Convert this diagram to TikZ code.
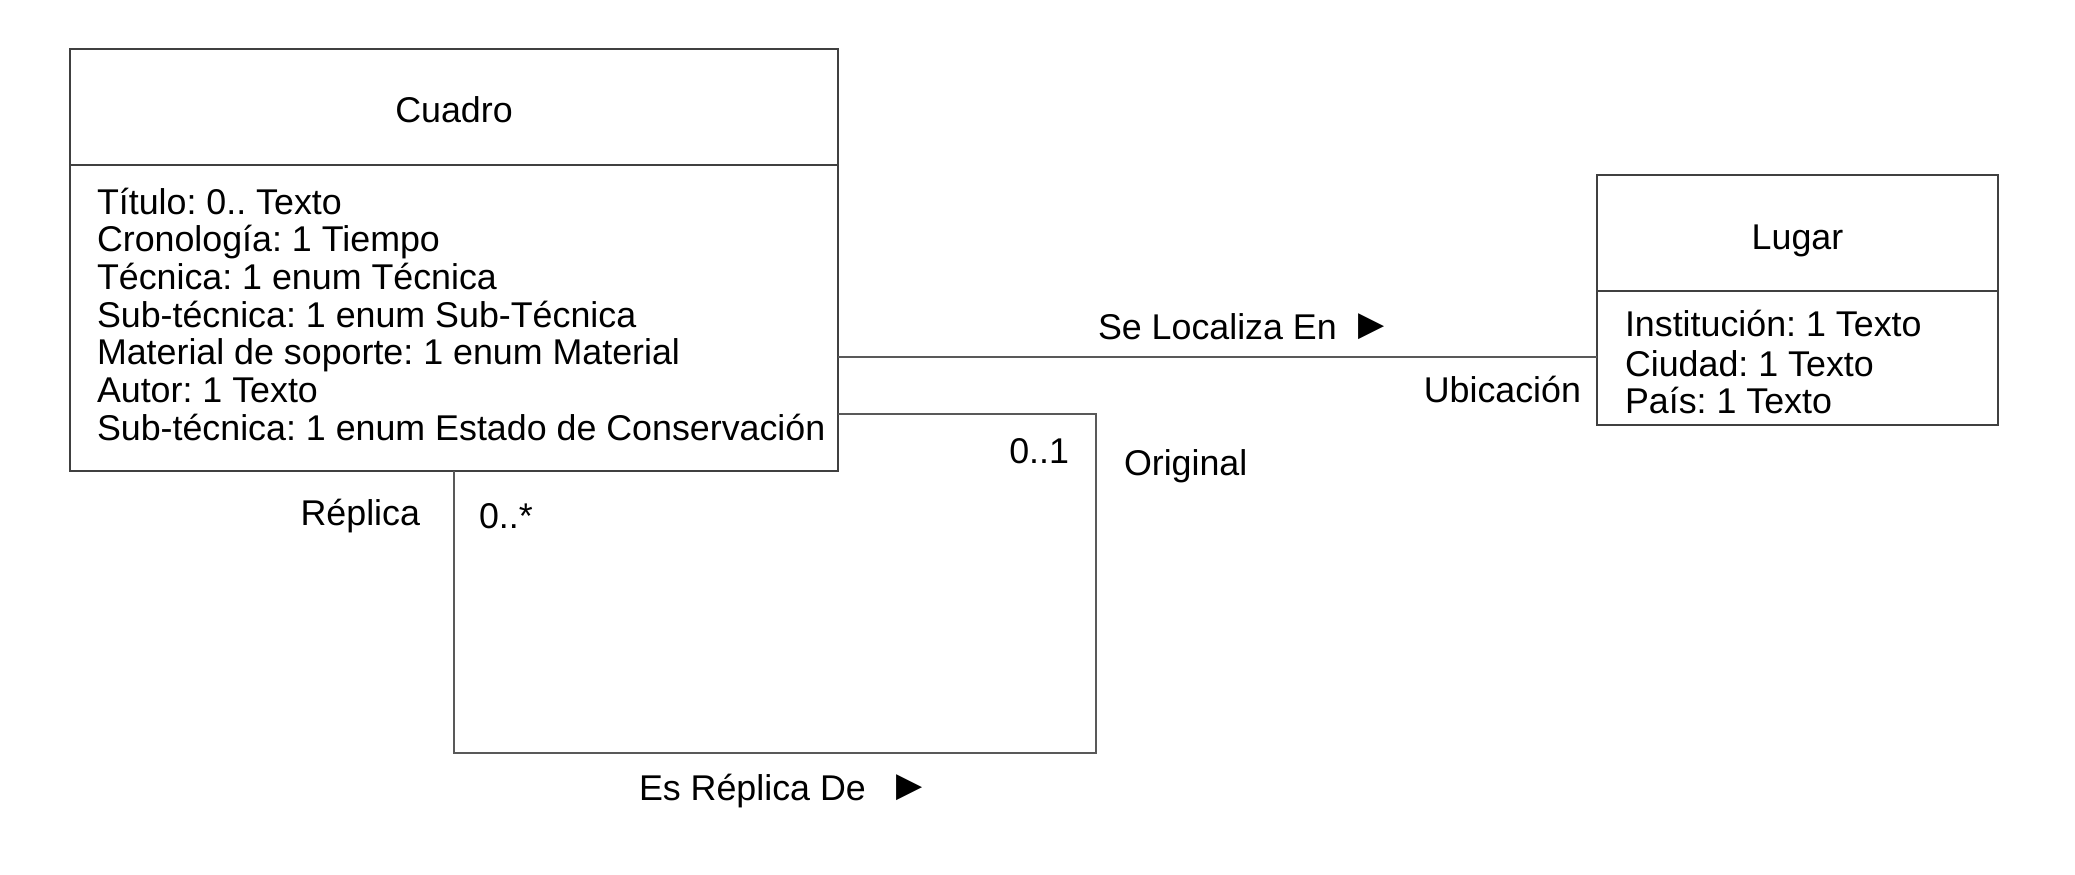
\documentclass[tikz,border=0pt]{standalone}
\usepackage{fontspec}
\setmainfont{Liberation Sans}
\newfontfamily\dejavu{DejaVu Sans}
\frenchspacing
\begin{document}
\begin{tikzpicture}[x=0.5pt,y=-0.5pt,
  box/.style={draw=black!75,line width=0.7pt,inner sep=0,outer sep=0},
  txt/.style={font=\fontsize{17.9pt}{18.9pt}\selectfont,inner sep=0,outer sep=0},
  conn/.style={draw=black!65,line width=0.7pt},
  tri/.style={font=\dejavu\fontsize{17pt}{17pt}\selectfont,inner sep=0,outer sep=0}]
\fill[white] (0,0) rectangle (2075,874);
\useasboundingbox (0,0) rectangle (2075,874);
% Cuadro
\node[box,minimum width=384pt,minimum height=58pt] (ctitle) at (454,107) {};
\node[box,minimum width=384pt,minimum height=153pt] (cattr) at (454,318) {};
\node[txt] (cname) at (454,110) {Cuadro};
\node[txt,anchor=base west] (c1) at (97,214) {Título: 0.. Texto};
\node[txt,anchor=base west] (c2) at (97,251.7) {Cronología: 1 Tiempo};
\node[txt,anchor=base west] (c3) at (97,289.4) {Técnica: 1 enum Técnica};
\node[txt,anchor=base west] (c4) at (97,327.1) {Sub-técnica: 1 enum Sub-Técnica};
\node[txt,anchor=base west] (c5) at (97,364.8) {Material de soporte: 1 enum Material};
\node[txt,anchor=base west] (c6) at (97,402.5) {Autor: 1 Texto};
\node[txt,anchor=base west] (c7) at (97,440.2) {Sub-técnica: 1 enum Estado de Conservación};
% Lugar
\node[box,minimum width=200.5pt,minimum height=58pt] (ltitle) at (1797.5,233) {};
\node[box,minimum width=200.5pt,minimum height=67pt] (lattr) at (1797.5,358) {};
\node[txt] (lname) at (1797.5,241) {Lugar};
\node[txt,anchor=base west] (l1) at (1625,336) {Institución: 1 Texto};
\node[txt,anchor=base west] (l2) at (1625,376) {Ciudad: 1 Texto};
\node[txt,anchor=base west] (l3) at (1625,413) {País: 1 Texto};
% connectors
\coordinate (locy) at (0,357);
\coordinate (origy) at (0,414);
\coordinate (loopcorner) at (1096,753);
\coordinate (replx) at (454,0);
\draw[conn] (cattr.east |- locy) -- (lattr.west |- locy);
\draw[conn] (cattr.east |- origy) -| (loopcorner) -| (cattr.south -| replx);
% labels
\node[txt,anchor=base west] (sle) at (1098,339) {Se Localiza En};
\node[tri,anchor=west] (sletri) at (1358,327) {▶};
\node[txt,anchor=base east] (ubi) at (1581,402) {Ubicación};
\node[txt,anchor=base east] (m01) at (1069,463) {0..1};
\node[txt,anchor=base west] (orig) at (1124,475) {Original};
\node[txt,anchor=base east] (rep) at (420,525) {Réplica};
\node[txt,anchor=base west] (m0s) at (479,528) {0..*};
\node[txt,anchor=base west] (erd) at (639,800) {Es Réplica De};
\node[tri,anchor=west] (erdtri) at (896,788) {▶};
\end{tikzpicture}
\end{document}
